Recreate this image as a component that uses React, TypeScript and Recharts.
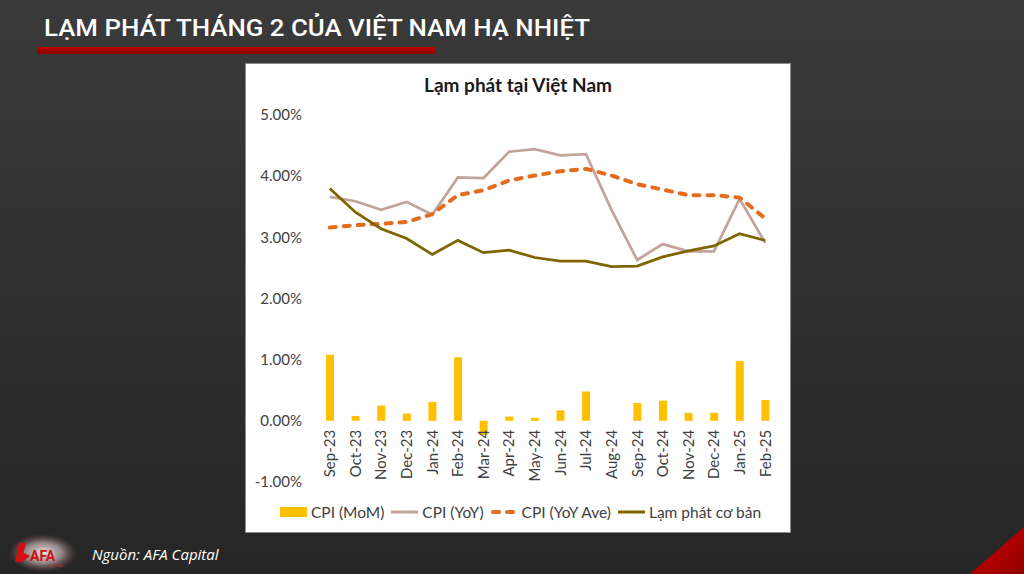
import React from 'react';
import { ComposedChart, Bar, Line, XAxis, YAxis } from 'recharts';

const categories = ['Sep-23','Oct-23','Nov-23','Dec-23','Jan-24','Feb-24','Mar-24','Apr-24','May-24','Jun-24','Jul-24','Aug-24','Sep-24','Oct-24','Nov-24','Dec-24','Jan-25','Feb-25'];
const cpiMoM = [1.08,0.08,0.25,0.12,0.31,1.04,-0.23,0.07,0.05,0.17,0.48,0.00,0.29,0.33,0.13,0.13,0.98,0.34];
const cpiYoY = [3.66,3.59,3.45,3.58,3.37,3.98,3.97,4.40,4.44,4.34,4.36,3.45,2.63,2.89,2.77,2.77,3.63,2.91];
const cpiYoYAve = [3.16,3.20,3.22,3.25,3.38,3.69,3.77,3.93,4.01,4.08,4.12,4.01,3.87,3.78,3.69,3.69,3.65,3.31];
const coreInflation = [3.80,3.41,3.14,2.98,2.72,2.95,2.75,2.79,2.67,2.61,2.61,2.52,2.53,2.68,2.78,2.86,3.06,2.95];
const yTicks = [-1,0,1,2,3,4,5];

const data = categories.map((c, i) => ({
  name: c,
  mom: cpiMoM[i],
  yoy: cpiYoY[i],
  ave: cpiYoYAve[i],
  core: coreInflation[i],
}));

const C_BAR = '#FFC000';
const C_YOY = '#C3A49B';
const C_AVE = '#E46C1E';
const C_CORE = '#806400';
const FONT = 'Lato, "Noto Sans", sans-serif';

const CH_W = 544;
const CH_H = 468;
const M_TOP = 51;
const M_BOTTOM = 20;
const X_H = 30;
const PLOT_H = CH_H - M_TOP - M_BOTTOM - X_H;
const Y_MIN = -1;
const Y_MAX = 5;
const Y_ZERO = M_TOP + (PLOT_H * (Y_MAX - 0)) / (Y_MAX - Y_MIN);

const XTick = (props: any) => {
  const { x, payload } = props;
  const y = Y_ZERO + 9;
  return (
    <text
      x={x}
      y={y}
      transform={`rotate(-90, ${x}, ${y})`}
      textAnchor="end"
      dy="0.36em"
      fill="#404040"
      fontSize={15}
      fontFamily={FONT}
    >
      {payload.value}
    </text>
  );
};

const LegendItem = ({ kind, color, label }: { kind: string; color: string; label: string }) => (
  <div style={{ display: 'flex', alignItems: 'center', marginRight: 6 }}>
    <svg width={29} height={12} style={{ marginRight: 3 }}>
      {kind === 'bar' && <rect x={1} y={1} width={27} height={10} fill={color} />}
      {kind === 'line' && <line x1={1} y1={6} x2={28} y2={6} stroke={color} strokeWidth={3} />}
      {kind === 'dash' && (
        <line x1={3} y1={6} x2={27} y2={6} stroke={color} strokeWidth={4} strokeDasharray="6 8" strokeLinecap="round" />
      )}
    </svg>
    <span>{label}</span>
  </div>
);

export default function App() {
  return (
    <div
      style={{
        position: 'fixed',
        left: 0,
        top: 0,
        width: 1024,
        height: 574,
        overflow: 'hidden',
        background: 'linear-gradient(180deg, #3a3a3a 0%, #303030 50%, #262626 100%)',
      }}
    >
      <svg width={1024} height={574} style={{ position: 'absolute', left: 0, top: 0 }}>
        <text
          x={44}
          y={36}
          fill="#ffffff"
          fontSize={24}
          fontFamily="Roboto, sans-serif"
          fontWeight={500}
          textLength={546}
          lengthAdjust="spacingAndGlyphs"
        >
          LẠM PHÁT THÁNG 2 CỦA VIỆT NAM HẠ NHIỆT
        </text>
        <defs>
          <linearGradient id="redbar" x1="0" y1="0" x2="0" y2="1">
            <stop offset="0" stopColor="#c40000" />
            <stop offset="1" stopColor="#8a0000" />
          </linearGradient>
          <linearGradient id="redtri" x1="0" y1="0" x2="1" y2="1">
            <stop offset="0" stopColor="#d00000" />
            <stop offset="1" stopColor="#900000" />
          </linearGradient>
          <radialGradient id="glow" cx="0.5" cy="0.5" r="0.5">
            <stop offset="0" stopColor="#ffffff" stopOpacity="0.9" />
            <stop offset="0.55" stopColor="#e8d0d0" stopOpacity="0.55" />
            <stop offset="1" stopColor="#a06060" stopOpacity="0" />
          </radialGradient>
        </defs>
        <rect x={37} y={47} width={398} height={7} fill="url(#redbar)" />
        <polygon points="1024,527 1024,574 970,574" fill="url(#redtri)" />
        <ellipse cx={43} cy={553} rx={34} ry={19} fill="url(#glow)" />
        <polygon points="19,543 26,543 21,562 15,562" fill="#d01010" />
        <polygon points="22,552 30,556 22,562" fill="#d01010" />
        <text x={30} y={561} fill="#d01010" fontSize={14} fontWeight={700} fontFamily="Roboto, sans-serif">AFA</text>
        <text x={48} y={567} fill="#b04040" fontSize={4} fontFamily="Roboto, sans-serif">CAPITAL</text>
        <text x={92} y={560} fill="#ffffff" fontSize={15} fontStyle="italic" fontFamily='"Open Sans", sans-serif'>
          Nguồn: AFA Capital
        </text>
      </svg>

      <div
        style={{
          position: 'absolute',
          left: 246,
          top: 64,
          width: CH_W,
          height: CH_H,
          background: '#ffffff',
          boxShadow: '0 0 0 1px #8a8a8a',
        }}
      >
        <div
          style={{
            position: 'absolute',
            left: 0,
            top: 9,
            width: CH_W,
            textAlign: 'center',
            fontFamily: FONT,
            fontWeight: 700,
            fontSize: 19,
            color: '#1a1a1a',
          }}
        >
          Lạm phát tại Việt Nam
        </div>
        <ComposedChart
          width={CH_W}
          height={CH_H}
          data={data}
          margin={{ top: M_TOP, right: 12, bottom: M_BOTTOM, left: 0 }}
          barSize={8}
        >
          <XAxis
            dataKey="name"
            height={X_H}
            axisLine={false}
            tickLine={false}
            interval={0}
            tick={<XTick />}
          />
          <YAxis
            width={71}
            domain={[Y_MIN, Y_MAX]}
            ticks={yTicks}
            axisLine={false}
            tickLine={false}
            tickSize={0}
            tickMargin={15}
            tickFormatter={(v: number) => `${v.toFixed(2)}%`}
            tick={{ fill: '#404040', fontSize: 15, fontFamily: FONT }}
            interval={0}
          />
          <Bar dataKey="mom" fill={C_BAR} isAnimationActive={false} />
          <Line dataKey="yoy" type="linear" stroke={C_YOY} strokeWidth={2.75} dot={false} isAnimationActive={false} />
          <Line
            dataKey="ave"
            type="linear"
            stroke={C_AVE}
            strokeWidth={4}
            strokeDasharray="6 8"
            strokeLinecap="round"
            dot={false}
            isAnimationActive={false}
          />
          <Line dataKey="core" type="linear" stroke={C_CORE} strokeWidth={2.75} dot={false} isAnimationActive={false} />
        </ComposedChart>
        <div
          style={{
            position: 'absolute',
            left: 33,
            top: 439,
            display: 'flex',
            alignItems: 'center',
            fontFamily: FONT,
            fontSize: 15.5,
            color: '#404040',
            whiteSpace: 'nowrap',
          }}
        >
          <LegendItem kind="bar" color={C_BAR} label="CPI (MoM)" />
          <LegendItem kind="line" color={C_YOY} label="CPI (YoY)" />
          <LegendItem kind="dash" color={C_AVE} label="CPI (YoY Ave)" />
          <LegendItem kind="line" color={C_CORE} label="Lạm phát cơ bản" />
        </div>
      </div>
    </div>
  );
}
